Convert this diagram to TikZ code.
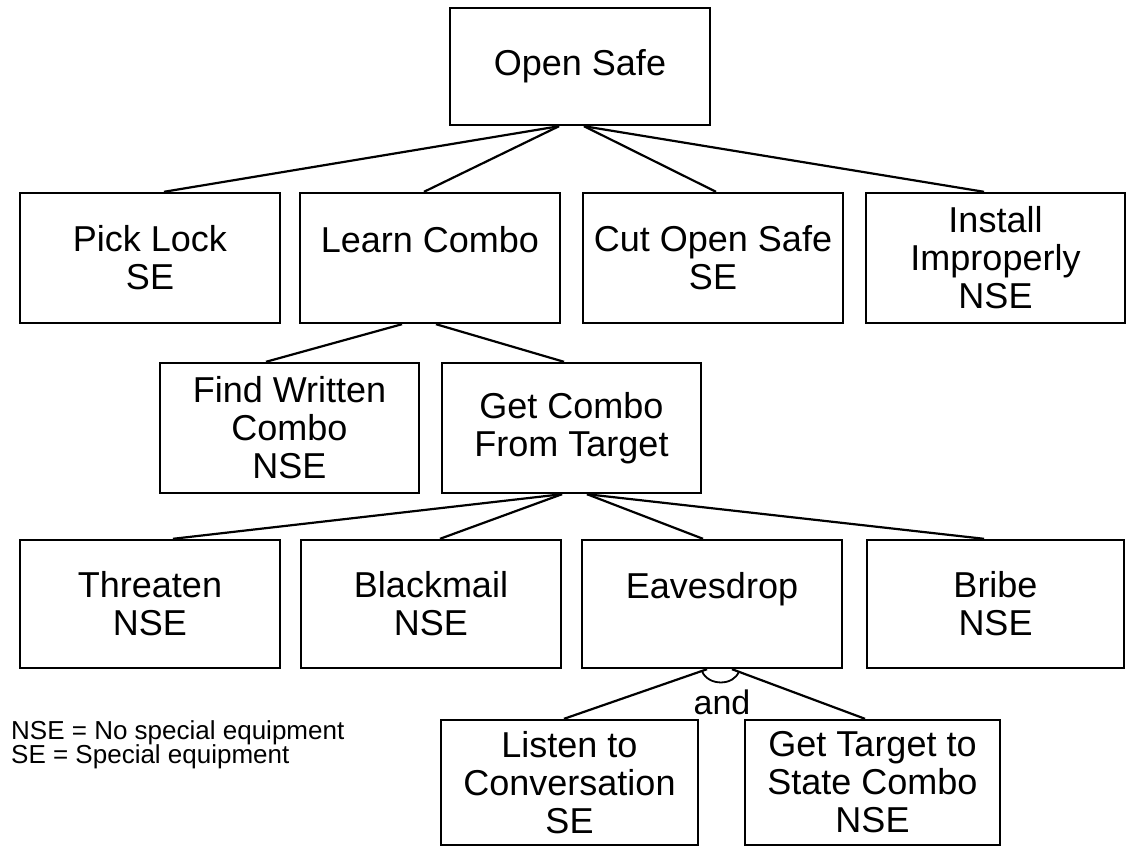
\documentclass[tikz,border=0pt]{standalone}
\usepackage{fontspec}
\setmainfont{Liberation Sans}
\usetikzlibrary{calc}
\begin{document}
\begin{tikzpicture}[x=1pt,y=-1pt,
  box/.style={draw,line width=2.4pt,inner sep=0pt,align=center,
    minimum width=260pt,minimum height=130pt,
    font=\fontsize{36}{38}\selectfont},
  link/.style={line width=2.2pt},
  legend/.style={anchor=west,inner sep=0pt,font=\fontsize{26}{26}\selectfont}]
\fill[white] (0,0) rectangle (1130,846);
\useasboundingbox (0,0) rectangle (1130,846);
% boxes
\node[box,minimum height=117pt] (os) at (580,66.5) {Open Safe};
\node[box] (pl) at (150,258) {Pick Lock\\SE};
\node[box] (lc) at (430,258) {Learn Combo\\\phantom{X}};
\node[box] (co) at (713,258) {Cut Open Safe\\SE};
\node[box,minimum width=259pt] (ii) at (995.5,258) {Install\\Improperly\\NSE};
\node[box,minimum width=259pt] (fw) at (289.5,428) {Find Written\\Combo\\NSE};
\node[box,minimum width=259pt] (gc) at (571.5,428) {Get Combo\\From Target};
\node[box,minimum height=128pt] (th) at (150,604) {Threaten\\NSE};
\node[box,minimum height=128pt] (bm) at (431,604) {Blackmail\\NSE};
\node[box,minimum height=128pt] (ev) at (712,604) {Eavesdrop\\\phantom{X}};
\node[box,minimum height=128pt,minimum width=257pt] (br) at (995.5,604) {Bribe\\NSE};
\node[box,minimum height=125pt,minimum width=257pt] (lt) at (569.5,782.5) {Listen to\\Conversation\\SE};
\node[box,minimum height=125pt,minimum width=255pt] (gt) at (872.5,782.5) {Get Target to\\State Combo\\NSE};
% connectors
\draw[link] ($(os.south)+(-21,0)$) -- ($(pl.north)+(14,0)$);
\draw[link] ($(os.south)+(-21,0)$) -- ($(lc.north)+(-6,0)$);
\draw[link] ($(os.south)+(4,0)$) -- ($(co.north)+(3,0)$);
\draw[link] ($(os.south)+(4,0)$) -- ($(ii.north)+(-11.5,0)$);
\draw[link] ($(lc.south)+(-28,0)$) -- ($(fw.north)+(-23.5,0)$);
\draw[link] ($(lc.south)+(6,0)$) -- ($(gc.north)+(-7.5,0)$);
\draw[link] ($(gc.south)+(-9.5,0)$) -- ($(th.north)+(23,0)$);
\draw[link] ($(gc.south)+(-9.5,0)$) -- ($(bm.north)+(9,0)$);
\draw[link] ($(gc.south)+(15.5,0)$) -- ($(ev.north)+(-9,0)$);
\draw[link] ($(gc.south)+(15.5,0)$) -- ($(br.north)+(-11.5,0)$);
\draw[link] ($(ev.south)+(-5,0)$) -- ($(lt.north)+(-5.5,0)$);
\draw[link] ($(ev.south)+(20,0)$) -- ($(gt.north)+(-7.5,0)$);
\draw[line width=1.8pt] ($(ev.south)+(-10,2)$) .. controls ($(ev.south)+(-4,17)$) and ($(ev.south)+(22,17)$) .. ($(ev.south)+(27,2)$);
\node[inner sep=0pt,font=\fontsize{34}{34}\selectfont] (and) at (722,702) {and};
% legend
\node[legend] (l1) at (11,733) {NSE = No special equipment};
\node[legend] (l2) at (11,757) {SE = Special equipment};
\end{tikzpicture}
\end{document}
